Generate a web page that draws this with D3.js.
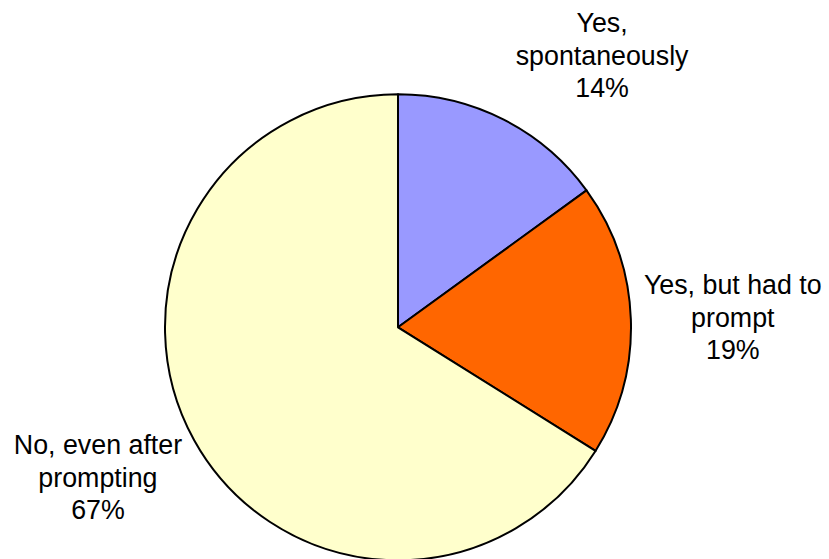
<!DOCTYPE html>
<html>
<head>
<meta charset="utf-8">
<script src="https://cdn.jsdelivr.net/npm/d3@7"></script>
<style>
  html, body { margin: 0; padding: 0; background: #fff; }
  svg { display: block; }
</style>
</head>
<body>
<svg id="chart" width="829" height="559"></svg>
<script>
// data
const categories = [["Yes,", "spontaneously"], ["Yes, but had to", "prompt"], ["No, even after", "prompting"]];
const shares = [15.0, 18.9, 66.1];          // slice sizes as drawn
const pctLabels = ["14%", "19%", "67%"];    // percentages printed on the chart
const colors = ["#9999FF", "#FF6600", "#FFFFCC"];

let svg = d3.select("#chart");
let cx = 398, cy = 327.3, r = 233;

let pie = d3.pie().sort(null).value(d => d);
let arcs = pie(shares);

let arc = d3.arc().innerRadius(0).outerRadius(r);
let g = svg.append("g").attr("transform", `translate(${cx},${cy})`);

g.selectAll("path")
  .data(arcs)
  .enter().append("path")
  .attr("d", arc)
  .attr("fill", (d, i) => colors[i])
  .attr("stroke", "#000")
  .attr("stroke-width", 2)
  .attr("stroke-linejoin", "round");

// labels sit outside the pie along each slice's mid angle, nudged like Excel does
let labelR = 335;
let nudge = [[52, 27], [0, 2], [-7, -12]];
let lineH = 32.5;

let labels = g.selectAll("text.lbl")
  .data(arcs)
  .enter().append("text")
  .attr("class", "lbl")
  .attr("text-anchor", "middle")
  .attr("font-family", "'Liberation Sans', Arial, sans-serif")
  .attr("font-size", 26.8)
  .attr("fill", "#000")
  .attr("transform", (d, i) => {
    let a = (d.startAngle + d.endAngle) / 2;
    let x = labelR * Math.sin(a) + nudge[i][0];
    let y = -labelR * Math.cos(a) + nudge[i][1];
    return `translate(${x},${y})`;
  });

labels.each(function(d, i) {
  let lines = categories[i].concat([pctLabels[i]]);
  d3.select(this).selectAll("tspan")
    .data(lines)
    .enter().append("tspan")
    .attr("x", 0)
    .attr("y", (t, j) => (j - 1) * lineH + 9)
    .text(t => t);
});
</script>
</body>
</html>
